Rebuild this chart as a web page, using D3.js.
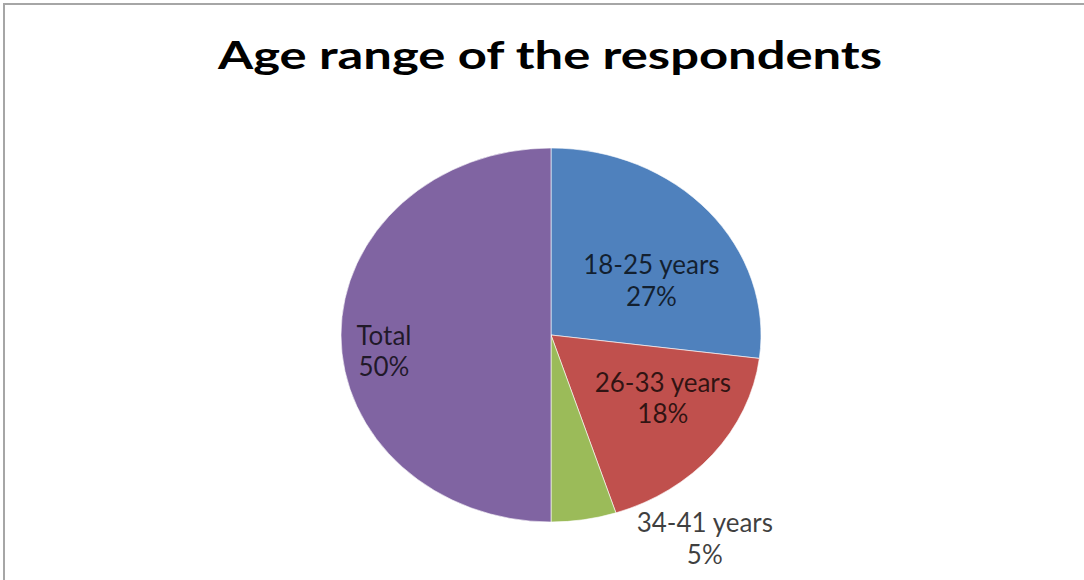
<!DOCTYPE html>
<html>
<head>
<meta charset="utf-8">
<script src="https://cdn.jsdelivr.net/npm/d3@7"></script>
<style>
  body { margin: 0; background: #fff; }
  svg { display: block; }
</style>
</head>
<body>
<svg id="vis" width="1084" height="580"></svg>
<script>
// data
var categories = ["18-25 years", "26-33 years", "34-41 years", "Total"];
var percents = [27, 18, 5, 50];
var colors = ["#4F81BD", "#C0504D", "#9BBB59", "#8064A2"];
var title = "Age range of the respondents";

// label placement: radius as fraction of pie, and angle nudge (deg) from slice middle
var labelRadius = [0.56, 0.63, 1.31, 0.80];
var labelNudge = [10, -7.3, -25, -6];

var svg = d3.select("#vis");
var width = 1084, height = 580;

// frame (only top and left edges show in the picture)
svg.append("rect")
    .attr("x", 4).attr("y", 4)
    .attr("width", width + 20).attr("height", height + 20)
    .attr("fill", "#fff")
    .attr("stroke", "#a6a6a6")
    .attr("stroke-width", 2);

svg.append("text")
    .attr("x", 550).attr("y", 69)
    .attr("text-anchor", "middle")
    .attr("textLength", 664)
    .attr("lengthAdjust", "spacingAndGlyphs")
    .style("font-family", "Lato, 'Open Sans', sans-serif")
    .style("font-weight", "bold")
    .style("font-size", "39px")
    .attr("fill", "#000")
    .text(title);

var cx = 551, cy = 335, rx = 210, ry = 187;
var sx = rx / ry;

var pie = d3.pie().sort(null)(percents);
var arc = d3.arc().innerRadius(0).outerRadius(ry);

var g = svg.append("g")
    .attr("transform", "translate(" + cx + "," + cy + ") scale(" + sx + ",1)");

g.selectAll("path")
    .data(pie)
    .enter()
    .append("path")
    .attr("d", arc)
    .attr("fill", function(d, i) { return colors[i]; })
    .attr("stroke", "#fff")
    .attr("stroke-opacity", 0.6)
    .attr("stroke-width", 1)
    .attr("vector-effect", "non-scaling-stroke");

var labels = svg.append("g").attr("transform", "translate(" + cx + "," + cy + ")");

pie.forEach(function(d, i) {
    var a = (d.startAngle + d.endAngle) / 2 + labelNudge[i] * Math.PI / 180;
    var r = ry * labelRadius[i];
    var x = Math.sin(a) * r * sx;
    var y = -Math.cos(a) * r;
    var lines = [categories[i], d.data + "%"];
    lines.forEach(function(s, k) {
        labels.append("text")
            .attr("text-anchor", "middle")
            .attr("x", x)
            .attr("y", y - 6 + k * 31.5)
            .style("font-family", "Lato, 'Open Sans', sans-serif")
            .style("font-size", "26px")
            .attr("fill", "#000")
            .attr("fill-opacity", 0.75)
            .text(s);
    });
});
</script>
</body>
</html>
